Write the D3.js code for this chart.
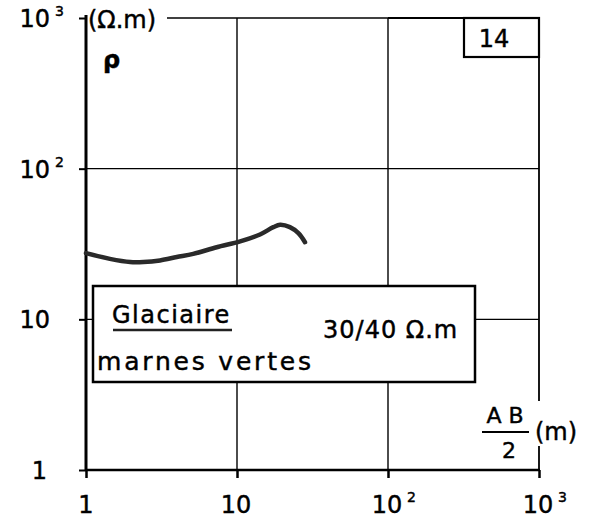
<!DOCTYPE html>
<html>
<head>
<meta charset="utf-8">
<script src="https://cdn.jsdelivr.net/npm/d3@7"></script>
<style>
  html, body { margin: 0; padding: 0; background: #fff; }
  svg { display: block; }
  text { font-family: "DejaVu Sans", sans-serif; fill: #000; stroke: #000; stroke-width: 0.45px; }
</style>
</head>
<body>
<svg id="chart" width="590" height="525"></svg>
<script>
// ---- data ----
const spacing = [1, 1.44, 1.96, 2.40, 3.09, 3.99, 5.13, 7.34, 10.5, 14.2, 17.4, 19.3, 22.4, 25.5, 28.2]; // AB/2 (m)
const resistivity = [27.5, 25.2, 24.0, 24.0, 24.6, 25.9, 27.2, 30.1, 32.9, 36.6, 40.9, 42.4, 40.9, 37.3, 32.5]; // ohm.m
const tickValues = [1, 10, 100, 1000];
const tickBase = ["1", "10", "10", "10"];
const tickExp = ["", "", "2", "3"];
const panelNumber = "14";
const legendTitle = "Glaciaire";
const legendSub = "marnes vertes";
const legendValue = "30/40 Ω.m";
const yUnit = "(Ω.m)";
const yName = "ρ";

// ---- layout ----
const svg = d3.select("#chart");
const x = d3.scaleLog().domain([1, 1000]).range([86, 539]);
const y = d3.scaleLog().domain([1, 1000]).range([470, 18]);

// grid lines
const grid = svg.append("g").attr("stroke", "#000").attr("stroke-width", 1.4);
[10, 100].forEach(v => {
  grid.append("line").attr("x1", x(v)).attr("x2", x(v)).attr("y1", y(1000)).attr("y2", y(1));
});
[10, 100].forEach(v => {
  grid.append("line").attr("x1", x(1)).attr("x2", x(1000)).attr("y1", y(v)).attr("y2", y(v));
});
// top border (after unit label)
grid.append("line").attr("x1", 167).attr("x2", x(1000)).attr("y1", y(1000)).attr("y2", y(1000));
// thicker frame on top right
svg.append("line").attr("x1", x(100)).attr("x2", x(1000) + 1).attr("y1", y(1000)).attr("y2", y(1000))
  .attr("stroke", "#000").attr("stroke-width", 2.2);
// right border
svg.append("line").attr("x1", x(1000)).attr("x2", x(1000)).attr("y1", y(1000)).attr("y2", y(1))
  .attr("stroke", "#000").attr("stroke-width", 1.8);

// axes
const yAxis = d3.axisLeft(y).tickValues(tickValues).tickFormat("").tickSize(7);
const gy = svg.append("g").attr("transform", `translate(${x(1)},0)`).call(yAxis);
gy.select(".domain").remove();
gy.selectAll(".tick line").attr("stroke", "#000").attr("stroke-width", 2);
svg.append("line").attr("x1", x(1)).attr("x2", x(1)).attr("y1", y(1000) - 3).attr("y2", y(1) + 1)
  .attr("stroke", "#000").attr("stroke-width", 3);

const xAxis = d3.axisBottom(x).tickValues(tickValues).tickFormat("").tickSize(8);
const gx = svg.append("g").attr("transform", `translate(0,${y(1)})`).call(xAxis);
gx.select(".domain").remove();
gx.selectAll(".tick line").attr("stroke", "#000").attr("stroke-width", 2.5);
svg.append("line").attr("x1", x(1)).attr("x2", x(1000) + 1).attr("y1", y(1)).attr("y2", y(1))
  .attr("stroke", "#000").attr("stroke-width", 2.6);

// y tick labels
tickValues.forEach((v, i) => {
  svg.append("text").attr("font-size", 24)
    .attr("x", tickBase[i] === "1" ? 47 : 50)
    .attr("y", y(v) + 9).attr("text-anchor", "end").text(tickBase[i]);
  if (tickExp[i]) {
    svg.append("text").attr("font-size", 14).attr("x", 55).attr("y", y(v) - 2).text(tickExp[i]);
  }
});

// x tick labels
tickValues.forEach((v, i) => {
  svg.append("text").attr("font-size", 24).attr("x", x(v) - (tickBase[i] === "1" ? 0 : 1))
    .attr("y", 513).attr("text-anchor", "middle").text(tickBase[i]);
  if (tickExp[i]) {
    svg.append("text").attr("font-size", 14).attr("x", x(v) + 19).attr("y", 502).text(tickExp[i]);
  }
});

// axis titles
svg.append("text").attr("font-size", 24).attr("x", 88).attr("y", 28).text(yUnit);
svg.append("text").attr("font-size", 24).attr("font-weight", "bold").attr("x", 103).attr("y", 68).text(yName);

// x title  AB/2 (m)
svg.append("rect").attr("x", 533).attr("y", 401).attr("width", 50).attr("height", 45).attr("fill", "#fff");
svg.append("text").attr("font-size", 22).attr("x", 505).attr("y", 423).attr("text-anchor", "middle").text("A B");
svg.append("line").attr("x1", 482).attr("x2", 529).attr("y1", 432).attr("y2", 432)
  .attr("stroke", "#000").attr("stroke-width", 2.2);
svg.append("text").attr("font-size", 22).attr("x", 509).attr("y", 458).attr("text-anchor", "middle").text("2");
svg.append("text").attr("font-size", 24).attr("x", 535).attr("y", 440).text("(m)");

// panel number box
svg.append("rect").attr("x", 464).attr("y", y(1000)).attr("width", x(1000) - 464).attr("height", 39)
  .attr("fill", "#fff").attr("stroke", "#000").attr("stroke-width", 2.2);
svg.append("text").attr("font-size", 24).attr("x", 494).attr("y", 47).attr("text-anchor", "middle").text(panelNumber);

// curve
const line = d3.line().x(d => x(d[0])).y(d => y(d[1])).curve(d3.curveCatmullRom);
svg.append("path").datum(spacing.map((s, i) => [s, resistivity[i]]))
  .attr("d", line).attr("fill", "none").attr("stroke", "#2a2a2a")
  .attr("stroke-width", 4.5).attr("stroke-linecap", "round").attr("stroke-linejoin", "round");

// legend box
svg.append("rect").attr("x", 93).attr("y", 286).attr("width", 382).attr("height", 96)
  .attr("fill", "#fff").attr("stroke", "#000").attr("stroke-width", 2.5);
svg.append("text").attr("font-size", 24).attr("letter-spacing", 1.5).attr("x", 112).attr("y", 323).text(legendTitle);
svg.append("line").attr("x1", 113).attr("x2", 232).attr("y1", 330).attr("y2", 330)
  .attr("stroke", "#222").attr("stroke-width", 2.5);
svg.append("text").attr("font-size", 25).attr("letter-spacing", 2.8).attr("x", 97).attr("y", 370).text(legendSub);
svg.append("text").attr("font-size", 24).attr("letter-spacing", 1).attr("x", 323).attr("y", 338).text(legendValue);
</script>
</body>
</html>
